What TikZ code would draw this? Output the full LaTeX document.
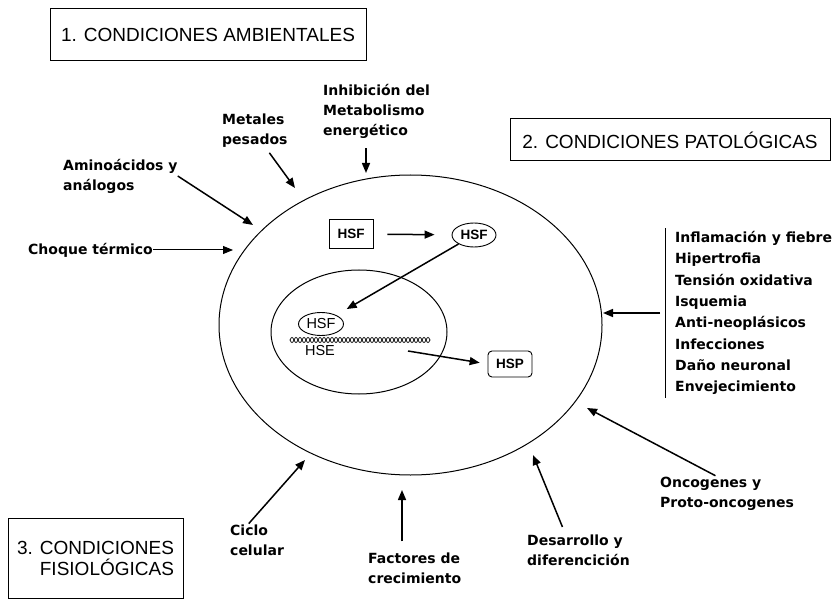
\documentclass[tikz,border=0pt]{standalone}
\usepackage{fontspec}
\setmainfont{Liberation Sans}
\newfontfamily\labfont{DejaVu Sans}
\usetikzlibrary{shapes.geometric,arrows.meta}

\begin{document}
\begin{tikzpicture}[x=1pt,y=-1pt,
   titlebox/.style={draw,line width=1pt,inner sep=0pt,font=\fontsize{19}{21}\selectfont},
   cause/.style={anchor=west,align=left,inner sep=0pt,font=\labfont\bfseries\fontsize{14}{20}\selectfont},
   prot/.style={draw,line width=0.9pt,inner sep=0pt,font=\bfseries\fontsize{13.5}{15}\selectfont},
   strand/.style={line width=0.7pt,smooth,samples=141},
   arr/.style={-{Triangle[length=10pt,width=8pt]},line width=1.5pt}]
\useasboundingbox (0,0) rectangle (837,601);

\node[titlebox,minimum width=316pt,minimum height=52pt] (amb) at (208,35) {1. CONDICIONES AMBIENTALES};
\node[titlebox,minimum width=320pt,minimum height=42pt] (pat) at (670,140) {2. CONDICIONES PATOLÓGICAS};
\node[titlebox,minimum width=175pt,minimum height=80pt,align=right] (fis) at (95.5,558) {3. CONDICIONES\\FISIOLÓGICAS};

\node[draw,ellipse,line width=1pt,minimum width=383pt,minimum height=300pt,inner sep=0pt] (cell) at (410.5,325) {};
\node[draw,ellipse,line width=1pt,minimum width=176pt,minimum height=124pt,inner sep=0pt] (nucleo) at (359,332) {};

\node[prot,minimum width=44pt,minimum height=29pt] (hsfc) at (351,234) {HSF};
\node[prot,ellipse,minimum width=44pt,minimum height=24pt] (hsfa) at (474,235) {HSF};
\node[prot,ellipse,minimum width=45pt,minimum height=23pt,font=\fontsize{14.5}{15}\selectfont] (hsfn) at (321,324) {HSF};
\node[inner sep=0pt,font=\fontsize{14.5}{15}\selectfont] (hse) at (320,351) {HSE};
\node[prot,rounded corners=4pt,minimum width=44pt,minimum height=26pt] (hsp) at (510,364) {HSP};

\draw[strand] plot[domain=290:430] (\x,{340+2.6*sin(45*(\x-290))});
\draw[strand] plot[domain=290:430] (\x,{340-2.6*sin(45*(\x-290))});

\draw[arr,shorten <=14pt,shorten >=17pt] (hsfc) -- (hsfa);
\draw[arr,shorten >=12pt] (hsfa) -- (hsfn);
\coordinate (mrna) at (408,351);
\draw[arr,shorten >=8pt] (mrna) -- (hsp.west);

\node[cause] (inhib) at (323,111) {Inhibición del\\Metabolismo\\energético};
\node[cause] (metales) at (222,131) {Metales\\pesados};
\node[cause] (amino) at (63,176) {Aminoácidos y\\análogos};
\node[cause] (choque) at (28,250) {Choque térmico};
\node[cause,inner xsep=10pt,inner ysep=3pt,font=\labfont\bfseries\fontsize{14}{21.3}\selectfont] (patlist) at (665,313)
   {Inflamación y fiebre\\Hipertrofia\\Tensión oxidativa\\Isquemia\\Anti-neoplásicos\\Infecciones\\Daño neuronal\\Envejecimiento};
\draw[line width=1pt] (patlist.north west) -- (patlist.south west);
\node[cause] (onco) at (660,494) {Oncogenes y\\Proto-oncogenes};
\node[cause] (ciclo) at (230,540) {Ciclo\\celular};
\node[cause] (factores) at (368,568) {Factores de\\crecimiento};
\node[cause] (desarrollo) at (527,550) {Desarrollo y\\diferencición};

\coordinate (tInh) at (366,173);
\coordinate (tMet) at (295,188);
\coordinate (tAmi) at (253,225);
\coordinate (tCho) at (233,250);
\coordinate (tPat) at (603,313);
\coordinate (tOnc) at (587,408);
\coordinate (tCic) at (305,460);
\coordinate (tFac) at (402,490);
\coordinate (tDes) at (533,455);

\draw[arr,shorten <=10pt] (inhib.south -| tInh) -- (tInh);
\draw[arr,shorten <=6pt] ([xshift=11pt]metales.south) -- (tMet);
\draw[arr] (amino.east) -- (tAmi);
\draw[arr,line width=1pt] (choque.east) -- (tCho);
\draw[arr,shorten <=5pt] (patlist.west) -- (tPat);
\draw[arr,shorten <=3pt] ([xshift=-9pt]onco.north) -- (tOnc);
\draw[arr,shorten <=1pt] ([xshift=-9pt]ciclo.north) -- (tCic);
\draw[arr,shorten <=11pt] (factores.north -| tFac) -- (tFac);
\draw[arr,shorten <=8pt] ([xshift=-13pt]desarrollo.north) -- (tDes);
\end{tikzpicture}
\end{document}
